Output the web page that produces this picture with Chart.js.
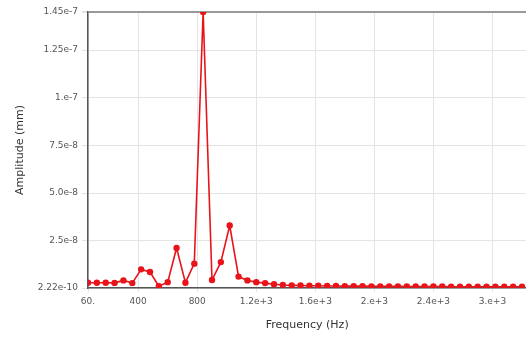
<!DOCTYPE html>
<html>
<head>
<meta charset="utf-8">
<script src="https://cdn.jsdelivr.net/npm/chart.js@4.4.1/dist/chart.umd.min.js"></script>
<style>
  html, body { margin: 0; padding: 0; background: #fff; overflow: hidden; }
  #wrap { width: 531px; height: 337px; position: relative; }
</style>
</head>
<body>
<div id="wrap"><canvas id="spectrum"></canvas></div>
<script>
// frequency (Hz) of each sample
const freqs = [60, 120, 180, 240, 300, 360, 420, 480, 540, 600,
    660, 720, 780, 840, 900, 960, 1020, 1080, 1140, 1200,
    1260, 1320, 1380, 1440, 1500, 1560, 1620, 1680, 1740, 1800,
    1860, 1920, 1980, 2040, 2100, 2160, 2220, 2280, 2340, 2400,
    2460, 2520, 2580, 2640, 2700, 2760, 2820, 2880, 2940, 3000];

// amplitude (mm)
const amps = [3.0e-9, 3.0e-9, 3.0e-9, 2.9e-9, 4.2e-9, 2.8e-9, 1.0e-8, 8.6e-9, 1.2e-9, 3.3e-9,
    2.12e-8, 3.0e-9, 1.3e-8, 1.45e-7, 4.4e-9, 1.38e-8, 3.3e-8, 6.2e-9, 4.2e-9, 3.3e-9,
    2.8e-9, 2.2e-9, 1.8e-9, 1.6e-9, 1.5e-9, 1.4e-9, 1.4e-9, 1.3e-9, 1.3e-9, 1.2e-9,
    1.2e-9, 1.2e-9, 1.1e-9, 1.1e-9, 1.1e-9, 1.1e-9, 1.0e-9, 1.0e-9, 1.0e-9, 1.0e-9,
    1.0e-9, 9e-10, 9e-10, 9e-10, 9e-10, 9e-10, 9e-10, 9e-10, 9e-10, 9e-10];

const xTickValues = [60, 400, 800, 1200, 1600, 2000, 2400, 2800];
const xTickLabels = ['60.', '400', '800', '1.2e+3', '1.6e+3', '2.e+3', '2.4e+3', '3.e+3'];
const yTickValues = [2.22e-10, 2.5e-8, 5e-8, 7.5e-8, 1e-7, 1.25e-7, 1.45e-7];
const yTickLabels = ['2.22e-10', '2.5e-8', '5.0e-8', '7.5e-8', '1.e-7', '1.25e-7', '1.45e-7'];

const points = freqs.map((f, i) => ({ x: f, y: amps[i] }));

const tickFont = { family: 'DejaVu Sans', size: 9 };

new Chart(document.getElementById('spectrum'), {
    type: 'scatter',
    data: {
        datasets: [{
            label: 'Amplitude',
            data: points,
            showLine: true,
            borderColor: '#e8141a',
            backgroundColor: '#e8141a',
            borderWidth: 1.6,
            pointRadius: 2.4,
            pointHoverRadius: 3,
            tension: 0
        }]
    },
    options: {
        responsive: true,
        maintainAspectRatio: false,
        animation: false,
        layout: { padding: { top: 12, right: 0, bottom: 0, left: 14 } },
        plugins: {
            legend: { display: false },
            tooltip: { enabled: false }
        },
        scales: {
            x: {
                type: 'linear',
                min: 60,
                max: 3030,
                afterBuildTicks: axis => { axis.ticks = xTickValues.map(v => ({ value: v })); },
                afterFit: axis => { axis.height = 49; },
                ticks: {
                    autoSkip: false,
                    maxRotation: 0,
                    color: '#555',
                    font: tickFont,
                    padding: 4,
                    callback: (v) => xTickLabels[xTickValues.indexOf(v)]
                },
                grid: { color: '#e4e4e4', tickLength: 4, tickColor: '#e4e4e4' },
                border: { display: true, color: '#555', width: 1.5 },
                title: {
                    display: true,
                    text: 'Frequency (Hz)',
                    color: '#333',
                    font: { family: 'DejaVu Sans', size: 11 },
                    padding: { top: 4, bottom: 5 }
                }
            },
            y: {
                type: 'linear',
                min: 2.22e-10,
                max: 1.45e-7,
                afterBuildTicks: axis => { axis.ticks = yTickValues.map(v => ({ value: v })); },
                afterFit: axis => { axis.width = 74; },
                ticks: {
                    autoSkip: false,
                    color: '#555',
                    font: tickFont,
                    padding: 4,
                    callback: (v) => yTickLabels[yTickValues.indexOf(v)]
                },
                grid: {
                    color: ctx => (ctx.tick && ctx.tick.value === 1.45e-7) ? '#999' : '#e4e4e4',
                    lineWidth: ctx => (ctx.tick && ctx.tick.value === 1.45e-7) ? 2 : 1,
                    tickLength: 6,
                    tickColor: '#e4e4e4'
                },
                border: { display: true, color: '#555', width: 1.5 },
                title: {
                    display: true,
                    text: 'Amplitude (mm)',
                    color: '#333',
                    font: { family: 'DejaVu Sans', size: 11 },
                    padding: { top: 0, bottom: 2 }
                }
            }
        }
    }
});
</script>
</body>
</html>
